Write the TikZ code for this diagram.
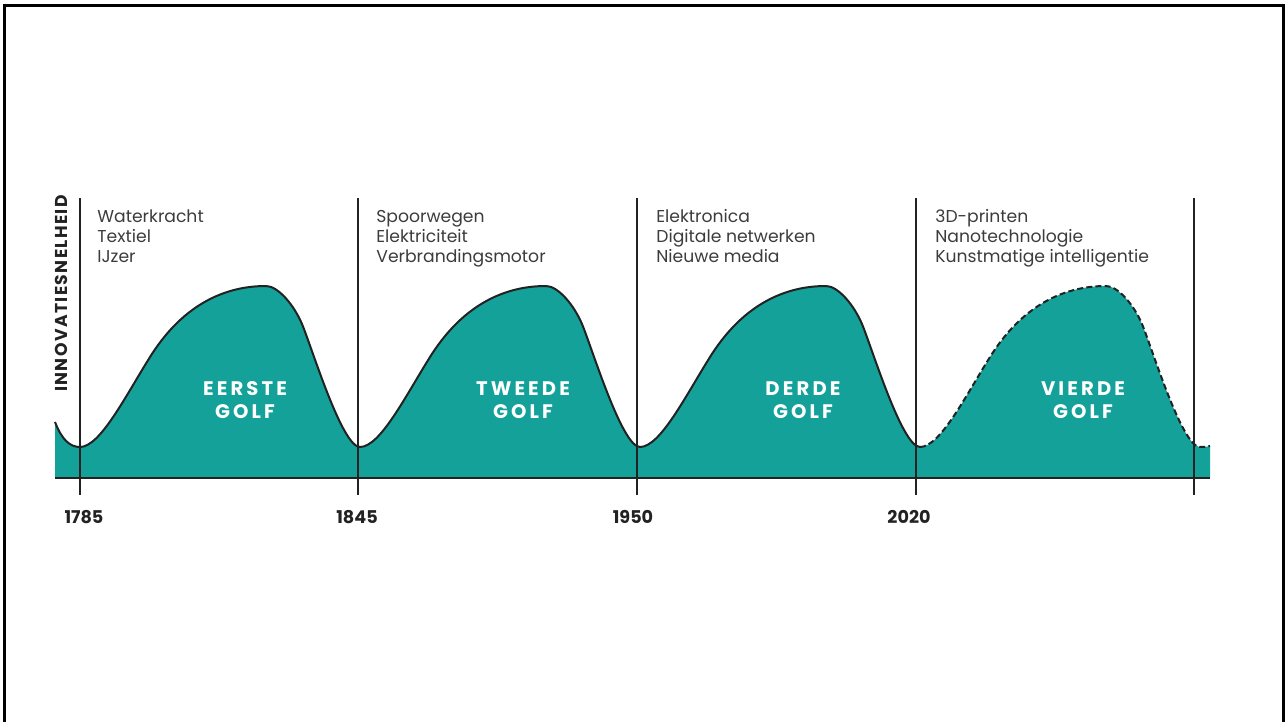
\documentclass[tikz,border=0pt]{standalone}
\usepackage{fontspec}
\setmainfont{Poppins}
\definecolor{golfteal}{RGB}{20,161,153}
\definecolor{inkt}{RGB}{34,34,34}
\definecolor{tekst}{RGB}{60,60,60}
% one wave, from one trough to the next (280px wide)
\newcommand\golfvorm{%
  .. controls +(20,0) and +(-25,40) .. ++(70,-90)
  .. controls +(30,-48) and +(-46,0) .. ++(116,-71)
  .. controls +(12,0) and +(-8,-19) .. ++(36,38)
  .. controls +(10,24) and +(-18,0) .. ++(58,123)}

\begin{document}
\begin{tikzpicture}[
    x=0.5pt, y=-0.5pt,
    golflijn/.style={
      draw=inkt,
      line width=1pt,
      line join=round
    },
    stippel/.style={
      golflijn,
      dash pattern=on 3pt off 1.6pt
    },
    tijdlijn/.style={
      draw=inkt,
      line width=0.8pt
    },
    jaar/.style={
      anchor=base,
      inner sep=0pt,
      text=inkt,
      font=\bfseries\fontsize{8.8}{10}\selectfont
    },
    lijst/.style={
      anchor=north west,
      align=left,
      inner sep=0pt,
      text=tekst,
      font=\fontsize{8.6}{10}\selectfont
    },
    golflabel/.style={
      align=center,
      inner sep=0pt,
      text=white,
      font=\bfseries\fontsize{9.8}{11.5}\selectfont\addfontfeature{LetterSpace=16}
    }
  ]
    \useasboundingbox (0,0) rectangle (1287,722);

    % frame
    \draw[line width=1.5pt] (4,722) -- (4,6) -- (1283,6) -- (1283,722);

    % area under the waves
    \fill[golfteal] (55,478) -- (55,422) .. controls (62,440) and (70,447) .. (80,447)
      \golfvorm \golfvorm \golfvorm \golfvorm
      .. controls +(4,0) and +(-4,1) .. (1210,446) -- (1210,478) -- cycle;

    \draw[golflijn] (55,422) .. controls (62,440) and (70,447) .. (80,447)
      \golfvorm \golfvorm \golfvorm;
    \draw[stippel] (920,447) \golfvorm
      .. controls +(4,0) and +(-4,1) .. (1210,446);

    % time axis
    \coordinate (asbegin) at (55,478);
    \coordinate (aseinde) at (1210,478);
    \draw[line width=1pt,draw=inkt] (asbegin) -- (aseinde);

    \foreach \x/\n in {80/1,358/2,637/3,916/4,1194/5} {
      \coordinate (top\n) at (\x,198);
      \coordinate (voet\n) at (\x,495);
      \draw[tijdlijn] (top\n) -- (voet\n);
    }

    \foreach \x/\n/\j in {84/1/1785,357/2/1845,633/3/1950,909/4/2020}
      \node[jaar] (jaar\n) at (\x,523) {\j};

    \node[lijst] (tech1) at (97,209.5) {Waterkracht\\Textiel\\IJzer};
    \node[lijst] (tech2) at (376,209.5) {Spoorwegen\\Elektriciteit\\Verbrandingsmotor};
    \node[lijst] (tech3) at (656,209.5) {Elektronica\\Digitale netwerken\\Nieuwe media};
    \node[lijst] (tech4) at (935,209.5) {3D-printen\\Nanotechnologie\\Kunstmatige intelligentie};

    \node[golflabel] (golf1) at (245,400) {EERSTE\\GOLF};
    \node[golflabel] (golf2) at (523,400) {TWEEDE\\GOLF};
    \node[golflabel] (golf3) at (803,400) {DERDE\\GOLF};
    \node[golflabel] (golf4) at (1083,400) {VIERDE\\GOLF};

    \node[rotate=90,inner sep=0pt,text=inkt,
      font=\bfseries\fontsize{8.6}{10}\selectfont\addfontfeature{LetterSpace=8}]
      (snelheid) at (61,293.5) {INNOVATIESNELHEID};
  \end{tikzpicture}
\end{document}
